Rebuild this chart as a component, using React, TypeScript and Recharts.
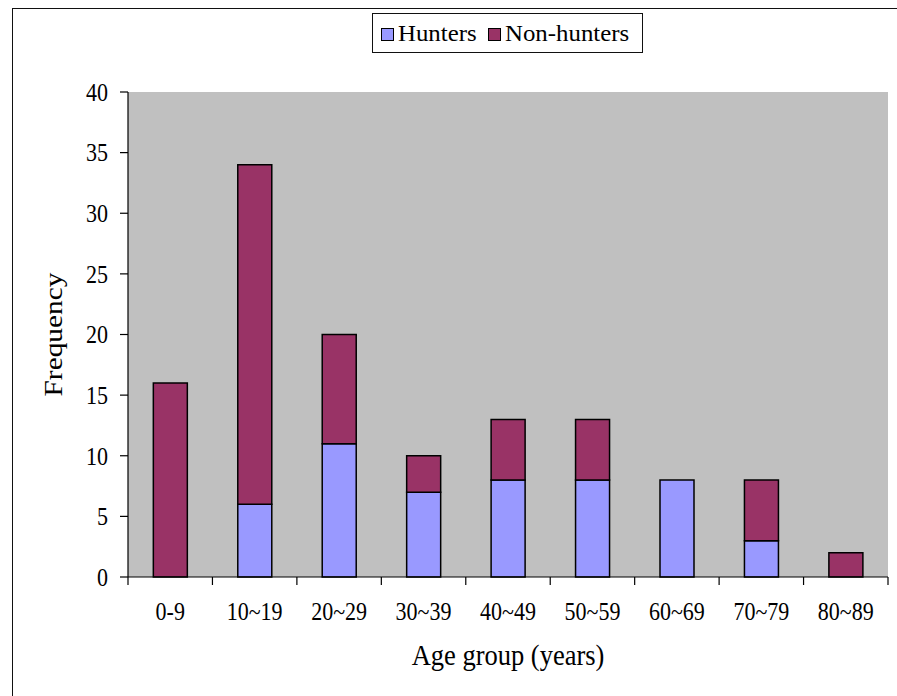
import React from 'react';
import { BarChart, Bar, XAxis, YAxis, CartesianGrid, Legend } from 'recharts';

// Age-group frequencies of hunters and non-hunters
const categories = ['0-9', '10~19', '20~29', '30~39', '40~49', '50~59', '60~69', '70~79', '80~89'];
const hunters = [0, 6, 11, 7, 8, 8, 8, 3, 0];
const nonHunters = [16, 28, 9, 3, 5, 5, 0, 5, 2];
const yTicks = [0, 5, 10, 15, 20, 25, 30, 35, 40];

const data = categories.map((age, i) => ({ age, hunters: hunters[i], nonHunters: nonHunters[i] }));

const W = 897;
const H = 696;
const MARGIN = { top: 92, right: 9, bottom: 59, left: 68 };
const Y_AXIS_W = 60;
const X_AXIS_H = 60;
const PLOT_W = W - MARGIN.left - Y_AXIS_W - MARGIN.right;
const BAND = PLOT_W / categories.length;
const FONT = '"Liberation Serif", "Times New Roman", serif';
const STRETCH = 1.13;

const HUNTER_COLOR = '#9999FF';
const NON_HUNTER_COLOR = '#993366';

const X_TICK_SIZE = 8;
const X_TICK_MARGIN = 17;

const XTick = (props: any) => {
  const { x, y, payload, index } = props;
  const axisY = y - X_TICK_SIZE - X_TICK_MARGIN;
  const left = x - BAND / 2;
  const right = x + BAND / 2;
  return (
    <g>
      <line x1={left} y1={axisY} x2={left} y2={axisY + X_TICK_SIZE} stroke="#000" strokeWidth={1.2} />
      {index === categories.length - 1 && (
        <line x1={right} y1={axisY} x2={right} y2={axisY + X_TICK_SIZE} stroke="#000" strokeWidth={1.2} />
      )}
      <g transform={`translate(${x},${y}) scale(1,${STRETCH})`}>
        <text x={0} y={0} dy="0.71em" textAnchor="middle" fontFamily={FONT} fontSize={22} fill="#000">
          {payload.value}
        </text>
      </g>
    </g>
  );
};

const YTick = (props: any) => {
  const { x, y, payload } = props;
  return (
    <g transform={`translate(${x},${y}) scale(1,${STRETCH})`}>
      <text x={0} y={0} dy="0.355em" textAnchor="end" fontFamily={FONT} fontSize={22} fill="#000">
        {payload.value}
      </text>
    </g>
  );
};

const YTitle = (props: any) => {
  const { viewBox } = props;
  const cx = viewBox.x - 6;
  const cy = viewBox.y + viewBox.height / 2;
  return (
    <g transform={`translate(${cx},${cy}) rotate(-90) scale(${STRETCH},1)`}>
      <text x={0} y={0} textAnchor="middle" fontFamily={FONT} fontSize={26} fill="#000">
        Frequency
      </text>
    </g>
  );
};

const XTitle = (props: any) => {
  const { viewBox } = props;
  const cx = viewBox.x + viewBox.width / 2;
  const cy = viewBox.y + viewBox.height + 28;
  return (
    <g transform={`translate(${cx},${cy}) scale(1,${STRETCH})`}>
      <text x={0} y={0} textAnchor="middle" fontFamily={FONT} fontSize={26.5} fill="#000">
        Age group (years)
      </text>
    </g>
  );
};

const legendItems = [
  { label: 'Hunters', color: HUNTER_COLOR },
  { label: 'Non-hunters', color: NON_HUNTER_COLOR },
];

const LegendBox = () => (
  <div
    style={{
      boxSizing: 'border-box',
      width: 271,
      height: 40,
      border: '1.5px solid #111',
      background: '#fff',
      display: 'flex',
      alignItems: 'center',
      paddingLeft: 8,
      fontFamily: FONT,
      fontSize: 23,
      color: '#000',
    }}
  >
    {legendItems.map((item, i) => (
      <div key={item.label} style={{ display: 'flex', alignItems: 'center', marginRight: i === 0 ? 17 : 0 }}>
        <span
          style={{
            boxSizing: 'border-box',
            display: 'inline-block',
            width: 13,
            height: 13,
            background: item.color,
            border: '1.5px solid #000',
            marginRight: 4,
            marginTop: 2,
          }}
        />
        <span style={{ display: 'inline-block', transform: 'scale(1.08,1)', transformOrigin: 'left center', lineHeight: 1 }}>
          {item.label}
        </span>
      </div>
    ))}
  </div>
);

export default function App() {
  return (
    <div style={{ position: 'absolute', left: 0, top: 0, width: W, height: H, background: '#fff' }}>
      <div
        style={{
          position: 'absolute',
          left: 12,
          top: 8,
          width: W - 12,
          height: H - 8,
          boxSizing: 'border-box',
          borderLeft: '1.5px solid #111',
          borderTop: '1.5px solid #111',
        }}
      />
      <div style={{ position: 'absolute', left: 0, top: 0 }}>
        <BarChart width={W} height={H} data={data} margin={MARGIN} barCategoryGap="30%">
          <CartesianGrid horizontal={false} vertical={false} fill="#C0C0C0" />
          <XAxis
            xAxisId="bottom"
            dataKey="age"
            height={X_AXIS_H}
            tickLine={false}
            tickSize={X_TICK_SIZE}
            tickMargin={X_TICK_MARGIN}
            axisLine={{ stroke: '#000', strokeWidth: 1.2 }}
            tick={<XTick />}
            interval={0}
            label={<XTitle />}
          />
          <XAxis xAxisId="top" orientation="top" dataKey="age" height={0} tick={false} tickLine={false} axisLine={{ stroke: '#808080', strokeWidth: 1.5 }} />
          <YAxis
            yAxisId="left"
            width={Y_AXIS_W}
            domain={[0, 40]}
            ticks={yTicks}
            interval={0}
            tickSize={8}
            tickMargin={12}
            tickLine={{ stroke: '#000', strokeWidth: 1.2 }}
            axisLine={{ stroke: '#000', strokeWidth: 1.2 }}
            tick={<YTick />}
            label={<YTitle />}
          />
          <YAxis yAxisId="right" orientation="right" width={0} domain={[0, 40]} tick={false} tickLine={false} axisLine={{ stroke: '#808080', strokeWidth: 1.5 }} />
          <Legend
            layout="horizontal"
            verticalAlign="middle"
            align="center"
            content={<LegendBox />}
            wrapperStyle={{ position: 'absolute', top: 13, left: 372, width: 271, height: 40 }}
          />
          <Bar
            xAxisId="bottom"
            yAxisId="left"
            dataKey="hunters"
            name="Hunters"
            stackId="a"
            fill={HUNTER_COLOR}
            stroke="#000"
            strokeWidth={1.5}
            isAnimationActive={false}
          />
          <Bar
            xAxisId="bottom"
            yAxisId="left"
            dataKey="nonHunters"
            name="Non-hunters"
            stackId="a"
            fill={NON_HUNTER_COLOR}
            stroke="#000"
            strokeWidth={1.5}
            isAnimationActive={false}
          />
        </BarChart>
      </div>
    </div>
  );
}
